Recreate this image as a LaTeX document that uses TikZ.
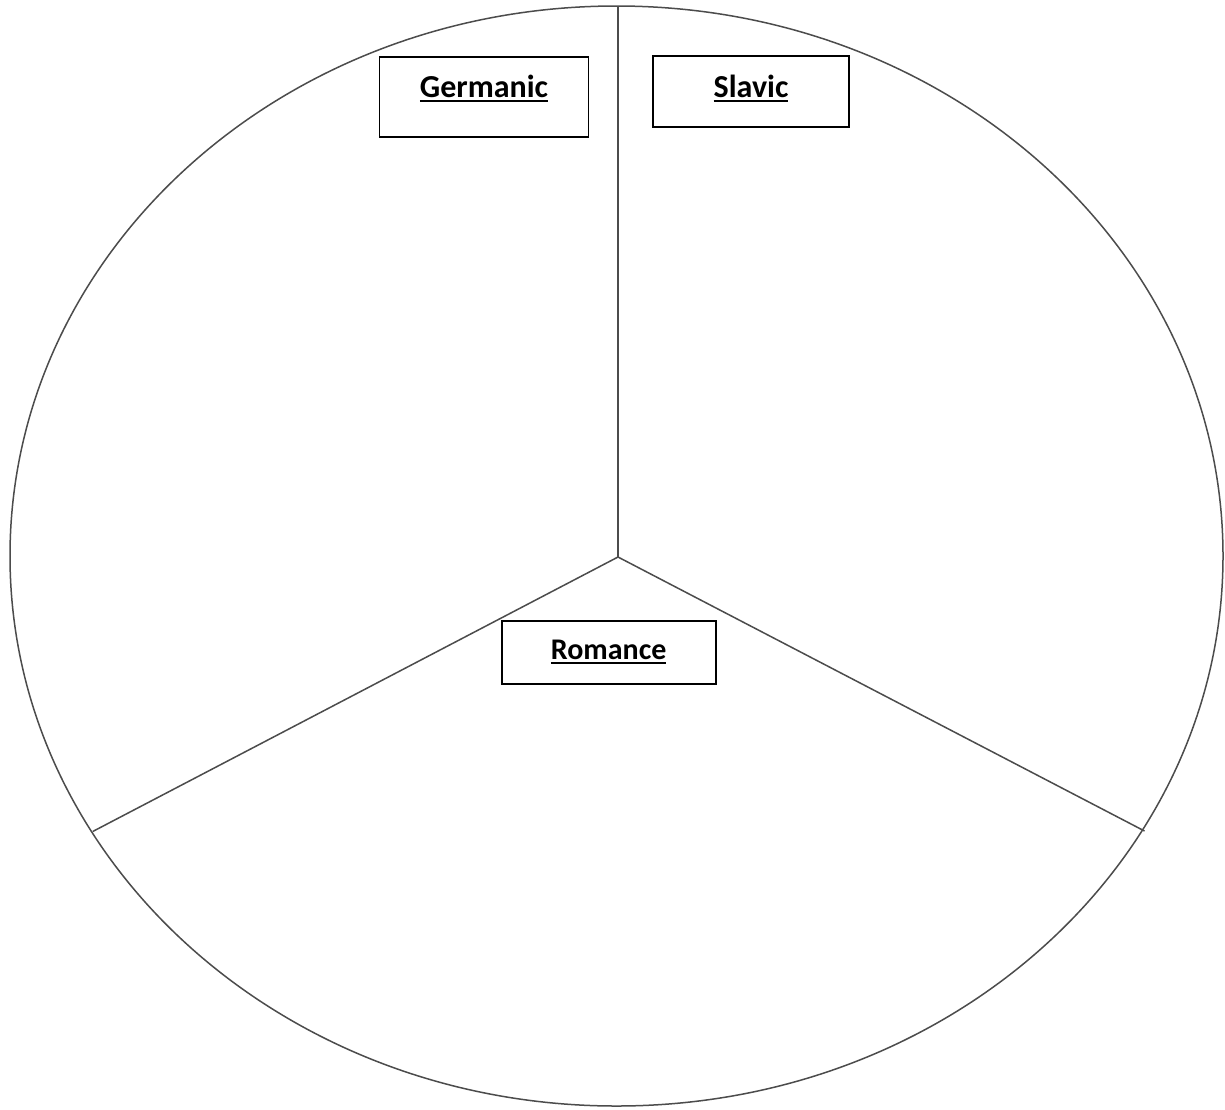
\documentclass[tikz,border=0pt]{standalone}
\usepackage{fontspec}
\setmainfont{Carlito}
\newcommand\tagline[1]{\vtop{\hbox{#1}\kern2.6pt\hrule height 2.4pt}}
\begin{document}
\begin{tikzpicture}[x=1pt,y=-1pt,
  rim/.style={draw=black!70,line width=1.5pt},
  tag/.style={draw=black,line width=1.9pt,inner xsep=0pt,inner ysep=0pt,anchor=base,
    font=\fontsize{32}{38}\selectfont\bfseries},
  small/.style={font=\fontsize{30}{36}\selectfont\bfseries}]
\useasboundingbox (0,0) rectangle (1225,1109);
\fill[white] (0,0) rectangle (1225,1109);
\draw[rim] (616.5,556) ellipse [x radius=606.5, y radius=550];
\coordinate (c) at (618,557);
\coordinate (t) at (618,6);
\coordinate (l) at (92.7,831.5);
\coordinate (r) at (1144.5,831);
\draw[rim] (c) -- (t);
\draw[rim] (c) -- (l);
\draw[rim] (c) -- (r);
\node[tag,minimum width=209pt,text height=40pt,text depth=40pt] (ger) at (484,97) {\tagline{Germanic}};
\node[tag,minimum width=196pt,text height=41pt,text depth=30pt] (sla) at (751,97) {\tagline{Slavic}};
\node[tag,small,minimum width=214pt,text height=38pt,text depth=25pt] (rom) at (608.7,659) {\tagline{Romance}};
\end{tikzpicture}
\end{document}
